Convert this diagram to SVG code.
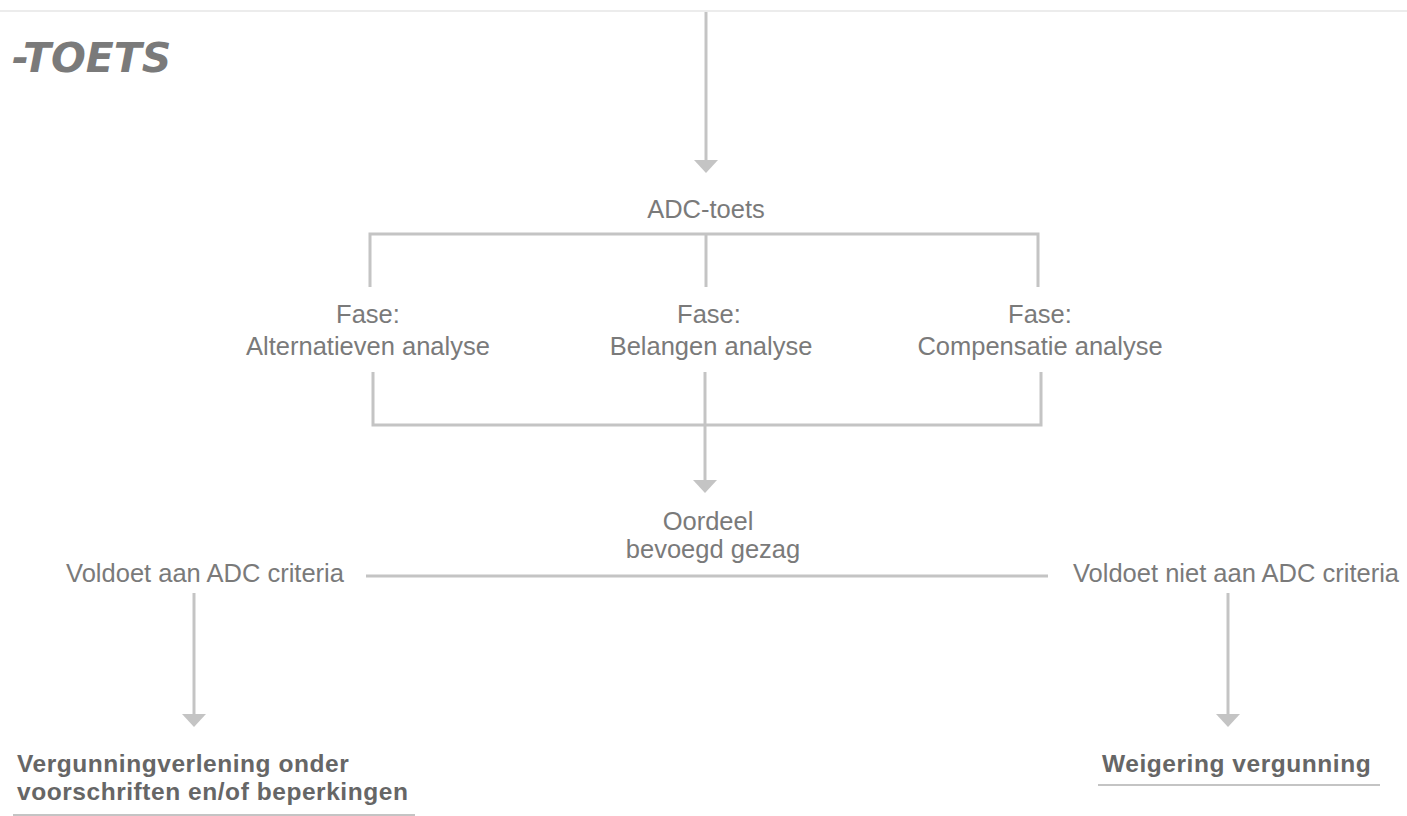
<svg xmlns="http://www.w3.org/2000/svg" width="1407" height="816" viewBox="0 0 1407 816">
<defs>
<marker id="ah" markerUnits="userSpaceOnUse" markerWidth="24" markerHeight="14" refX="12" refY="2" orient="0" viewBox="0 0 24 14">
<path d="M0,0 L24,0 L12,13 Z" fill="#c4c4c4"/>
</marker>
<style>
.ln{stroke:#c4c4c4;stroke-width:3;fill:none}
.ar{stroke:#c4c4c4;stroke-width:3;fill:none;marker-end:url(#ah)}
.t{font-family:"Liberation Sans",Arial,sans-serif;font-size:25.5px;fill:#7a7a7a;text-anchor:middle}
.b{font-family:"Liberation Sans",Arial,sans-serif;font-size:24.5px;font-weight:bold;fill:#666;letter-spacing:0.55px}
.ul{stroke:#c4c4c4;stroke-width:2}
</style>
</defs>
<rect width="1407" height="816" fill="#fff"/>
<line x1="0" y1="11" x2="1407" y2="11" stroke="#ececec" stroke-width="2"/>
<g id="title"><text x="12" y="72" font-family="DejaVu Sans,Verdana,sans-serif" font-size="41" font-weight="bold" font-style="italic" fill="#7a7a7a">-TOETS</text></g>
<g id="connectors">
<line class="ar" x1="706" y1="12" x2="706" y2="162"/>
<polyline class="ln" points="370,287 370,234 1038,234 1038,287"/>
<line class="ln" x1="706" y1="234" x2="706" y2="287"/>
<polyline class="ln" points="373,372 373,425 1041,425 1041,372"/>
<line class="ar" x1="705" y1="372" x2="705" y2="482"/>
<line class="ln" x1="366" y1="576" x2="1048" y2="576"/>
<line class="ar" x1="194" y1="593" x2="194" y2="716"/>
<line class="ar" x1="1228" y1="593" x2="1228" y2="716"/>
</g>
<g id="adc"><text class="t" x="706" y="218">ADC-toets</text></g>
<g id="fase1"><text class="t" x="368" y="323">Fase:</text><text class="t" x="368" y="355">Alternatieven analyse</text></g>
<g id="fase2"><text class="t" x="709" y="323">Fase:</text><text class="t" x="711" y="355">Belangen analyse</text></g>
<g id="fase3"><text class="t" x="1040" y="323">Fase:</text><text class="t" x="1040" y="355">Compensatie analyse</text></g>
<g id="oordeel"><text class="t" x="708" y="530">Oordeel</text><text class="t" x="713" y="558">bevoegd gezag</text></g>
<g id="voldoet"><text class="t" x="205" y="582">Voldoet aan ADC criteria</text></g>
<g id="voldoetniet"><text class="t" x="1236" y="582">Voldoet niet aan ADC criteria</text></g>
<g id="vergunning"><text class="b" x="17" y="772">Vergunningverlening onder</text><text class="b" x="17" y="800">voorschriften en/of beperkingen</text><line class="ul" x1="13" y1="815" x2="415" y2="815"/></g>
<g id="weigering"><text class="b" x="1102" y="772">Weigering vergunning</text><line class="ul" x1="1098" y1="785" x2="1380" y2="785"/></g>
</svg>
